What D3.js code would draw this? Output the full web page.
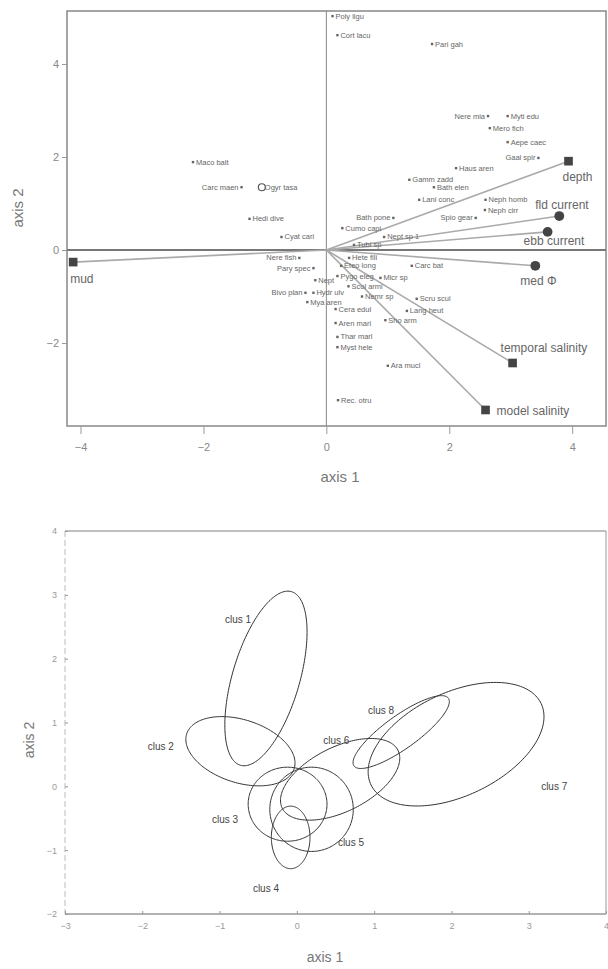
<!DOCTYPE html>
<html>
<head>
<meta charset="utf-8">
<script src="https://cdn.jsdelivr.net/npm/d3@7"></script>
<style>
  body { margin: 0; background: #fff; }
  svg { display: block; font-family: 'Liberation Sans', Arial, sans-serif; }
</style>
</head>
<body>
<svg id="chart" width="608" height="969"></svg>
<script>
// top panel: environmental arrows
const envNames = ['depth', 'fld current', 'ebb current', 'mud', 'med Φ', 'temporal salinity', 'model salinity']
const envX = [3.94, 3.79, 3.60, -4.12, 3.40, 3.03, 2.59]
const envY = [1.91, 0.73, 0.39, -0.26, -0.34, -2.43, -3.44]

// top panel: species scores
const speciesNames = ['Poly ligu', 'Cort lacu', 'Pari gah', 'Nere mia', 'Myti edu', 'Mero fich', 'Aepe caec',
  'Gaal spir', 'Haus aren', 'Gamm zadd', 'Bath elen', 'Lani conc', 'Neph homb', 'Neph cirr', 'Bath pone',
  'Spio gear', 'Cumo capi', 'Nept sp 1', 'Maco balt', 'Carc maen', 'Ogyr tasa', 'Hedi dive', 'Cyat cari',
  'Nere fish', 'Pary spec', 'Nept', 'Bivo plan', 'Hydr ulv', 'Mya aren', 'Cera edul', 'Aren mari',
  'Thar marl', 'Myst hele', 'Ara mucl', 'Rec. otru', 'Scru scul', 'Lang heut', 'Sho arm', 'Carc bat',
  'Eteo long', 'Pygo eleg', 'Scol armi', 'Hete fili', 'Nemr sp', 'Micr sp', 'Tubi sp']
const speciesX = [0.10, 0.18, 1.72, 2.63, 2.95, 2.66, 2.95, 3.45, 2.11, 1.35, 1.75, 1.51, 2.59, 2.58, 1.09,
  2.43, 0.26, 0.94, -2.17, -1.38, -1.05, -1.25, -0.73, -0.44, -0.21, -0.18, -0.34, -0.21, -0.31, 0.15, 0.15,
  0.18, 0.18, 1.00, 0.19, 1.47, 1.31, 0.96, 1.39, 0.24, 0.18, 0.36, 0.37, 0.58, 0.88, 0.45]
const speciesY = [5.03, 4.62, 4.43, 2.88, 2.88, 2.62, 2.32, 1.98, 1.76, 1.51, 1.35, 1.08, 1.08, 0.86, 0.69,
  0.69, 0.47, 0.28, 1.89, 1.35, 1.35, 0.67, 0.28, -0.17, -0.39, -0.65, -0.92, -0.92, -1.12, -1.27, -1.57,
  -1.87, -2.09, -2.49, -3.23, -1.05, -1.31, -1.51, -0.34, -0.34, -0.56, -0.78, -0.17, -1.00, -0.60, 0.11]

const topXTicks = [-4, -2, 0, 2, 4]
const topYTicks = [-2, 0, 2, 4]

// bottom panel: cluster ellipses
const clusNames = ['clus 1', 'clus 2', 'clus 3', 'clus 4', 'clus 5', 'clus 6', 'clus 7', 'clus 8']
const clusCx = [-0.40, -0.73, -0.12, -0.08, 0.19, 0.56, 2.06, 1.35]
const clusCy = [1.69, 0.55, -0.28, -0.80, -0.36, 0.11, 0.66, 0.85]
const clusA = [1.40, 0.75, 0.51, 0.25, 0.54, 0.88, 1.28, 0.81]
const clusB = [0.44, 0.48, 0.58, 0.49, 0.66, 0.48, 0.77, 0.24]
const clusAngle = [77, -26, 0, 0, 0, 35, 35, 42]
const clusLabelX = [-0.76, -1.76, -0.93, -0.40, 0.70, 0.51, 3.33, 1.09]
const clusLabelY = [2.62, 0.63, -0.52, -1.60, -0.88, 0.72, 0.00, 1.19]

const botXTicks = [-3, -2, -1, 0, 1, 2, 3, 4]
const botYTicks = [-2, -1, 0, 1, 2, 3, 4]

const svg = d3.select('#chart')

// ---------- top panel ----------
const x1 = d3.scaleLinear().domain([-4.22, 4.55]).range([67, 606])
const y1 = d3.scaleLinear().domain([-3.785, 5.14]).range([426, 11])
const topG = svg.append('g')

topG.append('rect')
  .attr('x', 67).attr('y', 11)
  .attr('width', 539).attr('height', 415)
  .attr('fill', 'none').attr('stroke', '#888').attr('stroke-width', 1.5)

topG.append('g')
  .attr('transform', 'translate(0,426)')
  .call(d3.axisBottom(x1).tickValues(topXTicks).tickSize(8).tickFormat(d3.format('d')))
  .call(g => g.select('.domain').remove())
  .call(g => g.selectAll('line').attr('stroke', '#999'))
  .call(g => g.selectAll('text').attr('fill', '#888').attr('font-size', 11).attr('dy', '1.3em'))

topG.append('g')
  .attr('transform', 'translate(67,0)')
  .call(d3.axisLeft(y1).tickValues(topYTicks).tickSize(5).tickFormat(d3.format('d')))
  .call(g => g.select('.domain').remove())
  .call(g => g.selectAll('line').attr('stroke', '#999'))
  .call(g => g.selectAll('text').attr('fill', '#888').attr('font-size', 11))

// zero lines
topG.append('line')
  .attr('x1', x1(0)).attr('x2', x1(0))
  .attr('y1', y1.range()[1]).attr('y2', y1.range()[0])
  .attr('stroke', '#888').attr('stroke-width', 1)
topG.append('line')
  .attr('x1', x1.range()[0]).attr('x2', x1.range()[1])
  .attr('y1', y1(0)).attr('y2', y1(0))
  .attr('stroke', '#777').attr('stroke-width', 2)

const env = envNames.map((name, i) => ({ name, x: envX[i], y: envY[i] }))

topG.selectAll('line.env')
  .data(env)
  .enter().append('line')
  .attr('class', 'env')
  .attr('x1', x1(0)).attr('y1', y1(0))
  .attr('x2', d => x1(d.x)).attr('y2', d => y1(d.y))
  .attr('stroke', '#aaa').attr('stroke-width', 1.6)

const envSymbol = {
  'depth': d3.symbolSquare, 'mud': d3.symbolSquare, 'temporal salinity': d3.symbolSquare,
  'model salinity': d3.symbolSquare
}
topG.selectAll('path.env')
  .data(env)
  .enter().append('path')
  .attr('class', 'env')
  .attr('transform', d => `translate(${x1(d.x)},${y1(d.y)})`)
  .attr('d', d => d3.symbol().type(envSymbol[d.name] || d3.symbolCircle).size(75)())
  .attr('fill', '#444')

// label offsets for the arrow names (px)
const envLabelOffset = {
  'depth': [-6, 20], 'fld current': [-24, -7], 'ebb current': [-24, 13], 'mud': [-3, 21],
  'med Φ': [-15, 19], 'temporal salinity': [-12, -11], 'model salinity': [11, 5]
}
topG.selectAll('text.env')
  .data(env)
  .enter().append('text')
  .attr('class', 'env')
  .attr('x', d => x1(d.x) + envLabelOffset[d.name][0])
  .attr('y', d => y1(d.y) + envLabelOffset[d.name][1])
  .attr('fill', '#666')
  .attr('font-size', 12)
  .text(d => d.name)

const species = speciesNames.map((name, i) => ({ name, x: speciesX[i], y: speciesY[i] }))
const leftLabels = new Set(['Nere mia', 'Gaal spir', 'Bath pone', 'Spio gear', 'Carc maen', 'Nere fish',
  'Pary spec', 'Bivo plan'])

topG.selectAll('rect.sp')
  .data(species)
  .enter().append('rect')
  .attr('class', 'sp')
  .attr('x', d => x1(d.x) - 1.2).attr('y', d => y1(d.y) - 1.2)
  .attr('width', 2.4).attr('height', 2.4)
  .attr('fill', '#666')

topG.append('circle')
  .attr('cx', x1(speciesX[speciesNames.indexOf('Ogyr tasa')]))
  .attr('cy', y1(speciesY[speciesNames.indexOf('Ogyr tasa')]))
  .attr('r', 3.5)
  .attr('fill', '#fff').attr('stroke', '#555').attr('stroke-width', 1.2)

topG.selectAll('text.sp')
  .data(species)
  .enter().append('text')
  .attr('class', 'sp')
  .attr('x', d => x1(d.x) + (leftLabels.has(d.name) ? -3 : 3))
  .attr('y', d => y1(d.y) + 2.5)
  .attr('text-anchor', d => leftLabels.has(d.name) ? 'end' : 'start')
  .attr('fill', '#666')
  .attr('font-size', 7.5)
  .text(d => d.name)

topG.append('text')
  .attr('x', 340).attr('y', 482)
  .attr('text-anchor', 'middle')
  .attr('fill', '#777').attr('font-size', 15)
  .text('axis 1')
topG.append('text')
  .attr('transform', 'translate(23,208) rotate(-90)')
  .attr('text-anchor', 'middle')
  .attr('fill', '#777').attr('font-size', 15)
  .text('axis 2')

// ---------- bottom panel ----------
const x2 = d3.scaleLinear().domain([-3, 4]).range([65, 606])
const y2 = d3.scaleLinear().domain([-2, 4]).range([914, 531])
const botG = svg.append('g')

botG.append('line')
  .attr('x1', 65).attr('x2', 606).attr('y1', 531).attr('y2', 531)
  .attr('stroke', '#aaa').attr('stroke-width', 1.5)
botG.append('line')
  .attr('x1', 606).attr('x2', 606).attr('y1', 531).attr('y2', 914)
  .attr('stroke', '#aaa').attr('stroke-width', 1.2)
botG.append('line')
  .attr('x1', 65).attr('x2', 606).attr('y1', 914).attr('y2', 914)
  .attr('stroke', '#999').attr('stroke-width', 1.5)
botG.append('line')
  .attr('x1', 65).attr('x2', 65).attr('y1', 531).attr('y2', 914)
  .attr('stroke', '#bbb').attr('stroke-width', 1).attr('stroke-dasharray', '6,3')

botG.append('g')
  .attr('transform', 'translate(0,914)')
  .call(d3.axisBottom(x2).tickValues(botXTicks).tickSize(-3).tickPadding(9).tickFormat(d3.format('d')))
  .call(g => g.select('.domain').remove())
  .call(g => g.selectAll('line').attr('stroke', '#999'))
  .call(g => g.selectAll('text').attr('fill', '#999').attr('font-size', 9))

botG.append('g')
  .attr('transform', 'translate(65,0)')
  .call(d3.axisLeft(y2).tickValues(botYTicks).tickSize(-3).tickPadding(8).tickFormat(d3.format('d')))
  .call(g => g.select('.domain').remove())
  .call(g => g.selectAll('line').attr('stroke', '#999'))
  .call(g => g.selectAll('text').attr('fill', '#999').attr('font-size', 9))

const clusters = clusNames.map((name, i) => ({
  name, cx: clusCx[i], cy: clusCy[i], a: clusA[i], b: clusB[i], angle: clusAngle[i],
  lx: clusLabelX[i], ly: clusLabelY[i]
}))

const ellipseLine = d3.line()
  .x(p => x2(p[0]))
  .y(p => y2(p[1]))
  .curve(d3.curveLinearClosed)

function ellipsePoints(e) {
  const th = e.angle * Math.PI / 180
  return d3.range(0, 2 * Math.PI, Math.PI / 90).map(t => [
    e.cx + e.a * Math.cos(t) * Math.cos(th) - e.b * Math.sin(t) * Math.sin(th),
    e.cy + e.a * Math.cos(t) * Math.sin(th) + e.b * Math.sin(t) * Math.cos(th)
  ])
}

botG.selectAll('path.clus')
  .data(clusters)
  .enter().append('path')
  .attr('class', 'clus')
  .attr('d', d => ellipseLine(ellipsePoints(d)))
  .attr('fill', 'none')
  .attr('stroke', '#333')
  .attr('stroke-width', 1)

botG.selectAll('text.clus')
  .data(clusters)
  .enter().append('text')
  .attr('class', 'clus')
  .attr('x', d => x2(d.lx))
  .attr('y', d => y2(d.ly) + 3.5)
  .attr('text-anchor', 'middle')
  .attr('fill', '#444')
  .attr('font-size', 10)
  .text(d => d.name)

botG.append('text')
  .attr('x', 325).attr('y', 962)
  .attr('text-anchor', 'middle')
  .attr('fill', '#777').attr('font-size', 14)
  .text('axis 1')
botG.append('text')
  .attr('transform', 'translate(34,740) rotate(-90)')
  .attr('text-anchor', 'middle')
  .attr('fill', '#777').attr('font-size', 14)
  .text('axis 2')
</script>
</body>
</html>
